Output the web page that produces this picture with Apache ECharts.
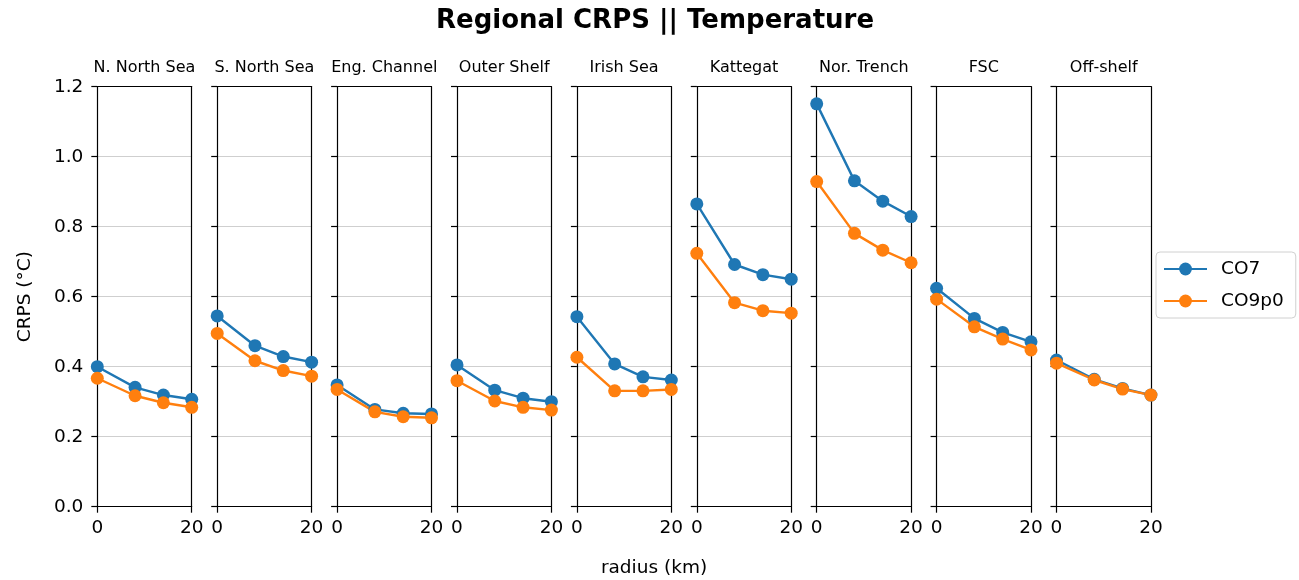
<!DOCTYPE html>
<html>
<head>
<meta charset="utf-8">
<title>Regional CRPS || Temperature</title>
<script src="https://cdn.jsdelivr.net/npm/echarts@6/dist/echarts.min.js"></script>
<style>
html, body { margin: 0; padding: 0; background: #fff; }
#chart { width: 1299px; height: 580px; }
</style>
</head>
<body>
<div id="chart"></div>
<script>
// data
const regions = ['N. North Sea', 'S. North Sea', 'Eng. Channel', 'Outer Shelf', 'Irish Sea',
    'Kattegat', 'Nor. Trench', 'FSC', 'Off-shelf']
const radius = [0, 8, 14, 20]
const co7 = [
    [0.400, 0.341, 0.319, 0.307],
    [0.545, 0.460, 0.429, 0.413],
    [0.348, 0.278, 0.267, 0.265],
    [0.405, 0.333, 0.310, 0.300],
    [0.543, 0.408, 0.371, 0.362],
    [0.865, 0.692, 0.663, 0.650],
    [1.151, 0.931, 0.873, 0.829],
    [0.624, 0.538, 0.498, 0.471],
    [0.419, 0.364, 0.338, 0.319]
]
const co9p0 = [
    [0.367, 0.317, 0.297, 0.284],
    [0.495, 0.417, 0.389, 0.373],
    [0.335, 0.271, 0.257, 0.254],
    [0.360, 0.302, 0.284, 0.276],
    [0.427, 0.331, 0.331, 0.335],
    [0.724, 0.583, 0.560, 0.553],
    [0.929, 0.781, 0.733, 0.697],
    [0.593, 0.514, 0.479, 0.448],
    [0.410, 0.362, 0.336, 0.319]
]
const xTicks = [0, 20]
const yTicks = [0, 0.2, 0.4, 0.6, 0.8, 1.0, 1.2]

const FONT = 'DejaVu Sans'
const BLUE = '#1f77b4'
const ORANGE = '#ff7f0e'

// panel layout (px)
const panelLeft = 97.3
const panelPitch = 119.9
const panelWidth = 94.4
const panelTop = 86.7
const panelHeight = 420

const chart = echarts.init(document.getElementById('chart'), null, { renderer: 'canvas' })

const grids = []
const xAxes = []
const yAxes = []
const frameX = []
const frameY = []
const series = []
const titles = [{
    text: 'Regional CRPS || Temperature',
    left: 655, top: 21, padding: 0,
    textAlign: 'center', textVerticalAlign: 'middle',
    textStyle: { fontFamily: FONT, fontSize: 26, fontWeight: 'bold', color: '#000' }
}, {
    text: 'radius (km)',
    left: 654, top: 568, padding: 0,
    textAlign: 'center', textVerticalAlign: 'middle',
    textStyle: { fontFamily: FONT, fontSize: 18.5, fontWeight: 'normal', color: '#000' }
}]

const axisLineStyle = { color: '#000', width: 1.2 }

regions.forEach((name, i) => {
    const left = panelLeft + panelPitch * i
    grids.push({
        left: left, top: panelTop, width: panelWidth, height: panelHeight,
        show: false
    })
    titles.push({
        text: name,
        left: left + panelWidth / 2, top: 68, padding: 0,
        textAlign: 'center', textVerticalAlign: 'middle',
        textStyle: { fontFamily: FONT, fontSize: 16, fontWeight: 'normal', color: '#000' }
    })
    xAxes.push({
        type: 'value', gridIndex: i, position: 'bottom',
        min: xTicks[0], max: xTicks[xTicks.length - 1], interval: xTicks[1] - xTicks[0],
        axisLine: { show: true, onZero: false, lineStyle: axisLineStyle },
        axisTick: { show: true, length: 6, lineStyle: axisLineStyle },
        axisLabel: { show: true, margin: 12, fontFamily: FONT, fontSize: 18.5, color: '#000' },
        splitLine: { show: false }
    })
    yAxes.push({
        type: 'value', gridIndex: i, position: 'left',
        min: yTicks[0], max: yTicks[yTicks.length - 1], interval: 0.2,
        name: i === 0 ? 'CRPS (°C)' : '',
        nameLocation: 'middle', nameRotate: 90, nameGap: 63,
        nameTextStyle: { fontFamily: FONT, fontSize: 18.5, color: '#000' },
        axisLine: { show: true, onZero: false, lineStyle: axisLineStyle },
        axisTick: { show: true, length: 6, lineStyle: axisLineStyle },
        axisLabel: {
            show: i === 0, margin: 14, fontFamily: FONT, fontSize: 18.5, color: '#000',
            formatter: v => v.toFixed(1)
        },
        splitLine: {
            show: true, showMinLine: false, showMaxLine: false,
            lineStyle: { color: '#cfcfcf', width: 1.2 }
        }
    })
    // top and right spines of the panel box
    frameX.push({
        type: 'value', gridIndex: i, position: 'top',
        min: xTicks[0], max: xTicks[xTicks.length - 1],
        axisLine: { show: true, onZero: false, lineStyle: axisLineStyle },
        axisTick: { show: false }, axisLabel: { show: false }, splitLine: { show: false }
    })
    frameY.push({
        type: 'value', gridIndex: i, position: 'right',
        min: yTicks[0], max: yTicks[yTicks.length - 1],
        axisLine: { show: true, onZero: false, lineStyle: axisLineStyle },
        axisTick: { show: false }, axisLabel: { show: false }, splitLine: { show: false }
    })
    const mk = (sname, vals, color) => ({
        name: sname, type: 'line',
        xAxisIndex: i, yAxisIndex: i,
        data: radius.map((r, k) => [r, vals[k]]),
        symbol: 'circle', symbolSize: 13, showSymbol: true, clip: true,
        lineStyle: { color: color, width: 2.4 },
        itemStyle: { color: color },
        emphasis: { disabled: true }
    })
    series.push(mk('CO7', co7[i], BLUE))
    series.push(mk('CO9p0', co9p0[i], ORANGE))
})

const option = {
    animation: false,
    backgroundColor: '#fff',
    title: titles,
    legend: {
        data: ['CO7', 'CO9p0'],
        orient: 'vertical',
        left: 1156, top: 252,
        padding: [7, 12, 7, 7],
        itemWidth: 43, itemHeight: 16, itemGap: 12,
        borderColor: '#d0d0d0', borderWidth: 1, borderRadius: 4,
        backgroundColor: '#fff',
        selectedMode: false,
        textStyle: { fontFamily: FONT, fontSize: 18.5, color: '#000', lineHeight: 20, padding: [0, 0, 0, 9] }
    },
    grid: grids,
    xAxis: xAxes.concat(frameX),
    yAxis: yAxes.concat(frameY),
    series: series
}

chart.setOption(option)
</script>
</body>
</html>
